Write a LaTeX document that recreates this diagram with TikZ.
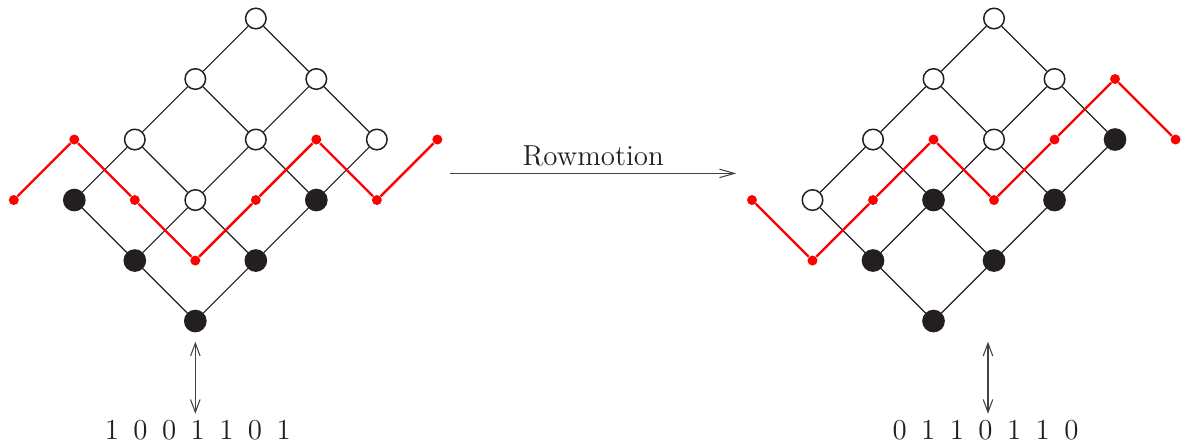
\documentclass[tikz,border=0pt]{standalone}
\usepackage{amsmath}
\usepackage{tikz}
\usetikzlibrary{arrows.meta}
\usetikzlibrary{calc}

\definecolor{ink}{HTML}{231F20}

\begin{document}
\begin{tikzpicture}[>={Straight Barb[length=6pt,width=4.5pt]},line join=round]
    \tikzstyle{every node}=[font=\fontsize{13.6}{16}\selectfont,text=ink]
    \tikzstyle{wht}=[circle,draw=ink,fill=white,line width=0.7pt,inner sep=0pt,minimum size=0.34cm]
    \tikzstyle{blk}=[circle,draw=ink,fill=ink,line width=0.7pt,inner sep=0pt,minimum size=0.35cm]
    \tikzstyle{dot}=[circle,fill=red,inner sep=0pt,minimum size=0.165cm]
    \tikzstyle{cover}=[draw=ink,line width=0.55pt]
    \tikzstyle{zigzag}=[draw=red,line width=1.1pt]
    \tikzstyle{bij}=[draw=ink!85,line width=0.5pt,<->]

    \useasboundingbox (-3.228,-2.083) rectangle (16.29,5.306);

    % order ideal before rowmotion
    \foreach \n/\x/\y/\s in {00/0/0/blk,10/-1/1/blk,01/1/1/blk,20/-2/2/blk,11/0/2/wht,02/2/2/blk,
                             21/-1/3/wht,12/1/3/wht,03/3/3/wht,22/0/4/wht,13/2/4/wht,23/1/5/wht}
        \node[\s] (L\n) at (\x,\y) {};
    \foreach \k/\x/\y in {1/-3/2,2/-2/3,3/-1/2,4/0/1,5/1/2,6/2/3,7/3/2,8/4/3}
        \node[dot] (lz\k) at (\x,\y) {};

    % order ideal after rowmotion
    \begin{scope}[xshift=12.2cm]
    \foreach \n/\x/\y/\s in {00/0/0/blk,10/-1/1/blk,01/1/1/blk,20/-2/2/wht,11/0/2/blk,02/2/2/blk,
                             21/-1/3/wht,12/1/3/wht,03/3/3/blk,22/0/4/wht,13/2/4/wht,23/1/5/wht}
        \node[\s] (R\n) at (\x,\y) {};
    \foreach \k/\x/\y in {1/-3/2,2/-2/1,3/-1/2,4/0/3,5/1/2,6/2/3,7/3/4,8/4/3}
        \node[dot] (rz\k) at (\x,\y) {};
    \coordinate (ra1) at (0.9,-0.342);
    \coordinate (ra2) at (0.9,-1.532);
    \node[anchor=base] (rw) at (0.86,-1.95) {0\enspace 1\enspace 1\enspace 0\enspace 1\enspace 1\enspace 0};
    \end{scope}

    % cover relations
    \foreach \P in {L,R} {
        \foreach \i in {0,1} \foreach \j in {0,...,3} {
            \pgfmathtruncatemacro\k{\i+1}
            \draw[cover] (\P\i\j) -- (\P\k\j);
        }
        \foreach \i in {0,...,2} \foreach \j in {0,1,2} {
            \pgfmathtruncatemacro\k{\j+1}
            \draw[cover] (\P\i\j) -- (\P\i\k);
        }
    }

    % lattice paths
    \draw[zigzag] (lz1) -- (lz2) -- (lz3) -- (lz4) -- (lz5) -- (lz6) -- (lz7) -- (lz8);
    \draw[zigzag] (rz1) -- (rz2) -- (rz3) -- (rz4) -- (rz5) -- (rz6) -- (rz7) -- (rz8);

    % binary words
    \coordinate (la1) at (0,-0.342);
    \coordinate (la2) at (0,-1.532);
    \node[anchor=base] (lw) at (0.04,-1.95) {1\enspace 0\enspace 0\enspace 1\enspace 1\enspace 0\enspace 1};
    \draw[bij] (la1) -- (la2);
    \draw[bij] (ra1) -- (ra2);

    % rowmotion arrow
    \coordinate (rs) at (4.21,2.44);
    \coordinate (re) at (8.94,2.44);
    \draw[bij,-{Straight Barb[length=7pt,width=4pt]}] (rs) -- node[above,inner sep=3pt] (rl) {Rowmotion} (re);
\end{tikzpicture}
\end{document}
